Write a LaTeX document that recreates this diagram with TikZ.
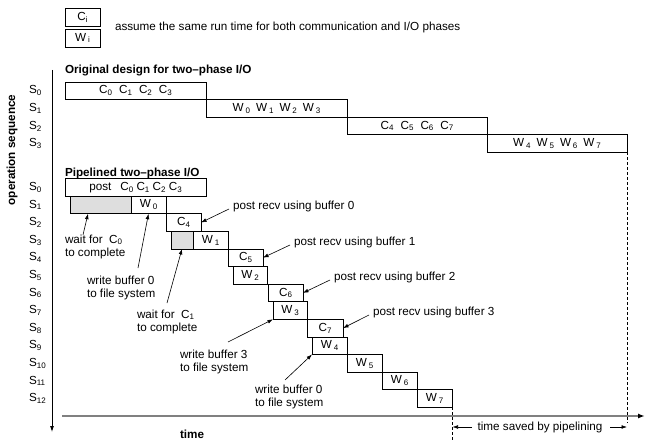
\documentclass[tikz,border=0pt]{standalone}
\usepackage{fontspec}
\setmainfont{Liberation Sans}
\usetikzlibrary{arrows.meta}
\newcommand\sbx[1]{\raisebox{-0.3ex}{\fontsize{8}{8}\selectfont #1}}
\begin{document}
\begin{tikzpicture}[x=1pt,y=-1pt,
  every node/.style={inner sep=0pt, outer sep=0pt, font=\fontsize{11.7}{13}\selectfont},
  box/.style={draw=black, line width=0.7pt, minimum height=17.6pt, anchor=north west},
  gbox/.style={box, fill=black!13},
  lab/.style={anchor=west, align=left},
  arr/.style={line width=0.6pt, -{Latex[length=5.5pt,width=3.8pt]}},
  ttl/.style={anchor=west, font=\fontsize{11.7}{13}\selectfont\bfseries},
  dsh/.style={line width=0.7pt, dash pattern=on 3pt off 2pt}]
\useasboundingbox (0,0) rectangle (645,441);

% legend
\node[box, minimum width=35pt, minimum height=18pt] (lc) at (65,8) {C\sbx{i}};
\node[box, minimum width=35pt, minimum height=18pt] (lw) at (65,29) {W\,\sbx{i}};
\node[lab] (note) at (115,27.5) {assume the same run time for both communication and I/O phases};

% axes
\coordinate (vtop) at (52,70);
\coordinate (vbot) at (52,432);
\draw[line width=0.8pt, -{Latex[length=6pt,width=4pt]}] (vtop) -- (vbot);
\node[rotate=90, font=\fontsize{11.7}{13}\selectfont\bfseries] (opseq) at (12,150) {operation sequence};
\coordinate (hl) at (62,416);
\coordinate (hr) at (645,416);
\draw[line width=1.6pt, black!50, -{Latex[length=7pt,width=5pt,color=black]}] (hl) -- (hr);
\node[ttl] (time) at (180,434) {time};

% original design
\node[ttl] (t1) at (65,71) {Original design for two--phase I/O};
\foreach \i in {0,...,3} \node[anchor=west] (so\i) at (29,{90.8+17.6*\i}) {S\sbx{\i}};
\node[box, minimum width=141pt] (o1) at (65,82) {C\sbx0\hspace{7pt}C\sbx1\hspace{7pt}C\sbx2\hspace{7pt}C\sbx3\hspace{6pt}};
\node[box, minimum width=141pt] (o2) at (206,99.6) {W\,\sbx0\hspace{6pt}W\,\sbx1\hspace{6pt}W\,\sbx2\hspace{6pt}W\,\sbx3\hspace{10pt}};
\node[box, minimum width=140pt] (o3) at (347,117.2) {C\sbx4\hspace{7pt}C\sbx5\hspace{7pt}C\sbx6\hspace{7pt}C\sbx7\hspace{6pt}};
\node[box, minimum width=140pt] (o4) at (487,134.8) {W\,\sbx4\hspace{6pt}W\,\sbx5\hspace{6pt}W\,\sbx6\hspace{6pt}W\,\sbx7\hspace{10pt}};
\coordinate (d1b) at (627,423);
\draw[dsh] (o4.south east) -- (d1b);

% pipelined
\node[ttl] (t2) at (65,173) {Pipelined two--phase I/O};
\foreach \i in {0,...,12} \node[anchor=west] (sp\i) at (29,{187.3+17.6*\i}) {S\sbx{\i}};
\node[box, minimum width=141pt] (post) at (65,178.5) {post\hspace{9pt}C\sbx0 C\sbx1 C\sbx2 C\sbx3\hspace{14pt}};
\node[gbox, minimum width=61pt] (g1) at (70,196.1) {};
\node[box, minimum width=35pt] (w0) at (131,196.1) {W\,\sbx0};
\node[box, minimum width=35pt] (c4) at (166,213.7) {C\sbx4};
\node[gbox, minimum width=22pt] (g2) at (171,231.3) {};
\node[box, minimum width=35pt] (w1) at (193,231.3) {W\,\sbx1};
\node[box, minimum width=35pt] (c5) at (228,248.9) {C\sbx5};
\node[box, minimum width=34pt] (w2) at (233,266.5) {W\,\sbx2};
\node[box, minimum width=35pt] (c6) at (268,284.1) {C\sbx6};
\node[box, minimum width=34pt] (w3) at (273,301.7) {W\,\sbx3};
\node[box, minimum width=36pt] (c7) at (307,319.3) {C\sbx7};
\node[box, minimum width=35pt] (w4) at (312,336.9) {W\,\sbx4};
\node[box, minimum width=35pt] (w5) at (347,354.5) {W\,\sbx5};
\node[box, minimum width=35pt] (w6) at (382,372.1) {W\,\sbx6};
\node[box, minimum width=35pt] (w7) at (417,389.7) {W\,\sbx7};

% post recv annotations
\node[lab] (pr0) at (233,206) {post recv using buffer 0};
\node[lab] (pr1) at (294,242) {post recv using buffer 1};
\node[lab] (pr2) at (334,277) {post recv using buffer 2};
\node[lab] (pr3) at (373,312) {post recv using buffer 3};
\draw[arr] ([xshift=-4pt,yshift=-3pt]pr0.west) -- (c4.east);
\draw[arr] ([xshift=-4pt,yshift=-3pt]pr1.west) -- (c5.east);
\draw[arr] ([xshift=-4pt,yshift=-3pt]pr2.west) -- (c6.east);
\draw[arr] ([xshift=-4pt,yshift=-3pt]pr3.west) -- (c7.east);

% lower annotations
\node[lab] (wc0) at (65,246.5) {wait for \ C\sbx0\\to complete};
\node[lab] (wb0) at (87,287.5) {write buffer 0\\to file system};
\node[lab] (wc1) at (137,321.5) {wait for \ C\sbx1\\to complete};
\node[lab] (wb3) at (180,362) {write buffer 3\\to file system};
\node[lab] (wb0b) at (255,396.5) {write buffer 0\\to file system};
\coordinate (awc0) at (83,235);
\coordinate (awb0) at (138,268);
\coordinate (awc1) at (167,303);
\coordinate (awb3) at (228,342);
\coordinate (awb0b) at (285,380);
\draw[arr] (awc0) -- ([xshift=18pt]g1.south west);
\draw[arr] (awb0) -- (w0.south);
\draw[arr] (awc1) -- (g2.south);
\draw[arr] (awb3) -- (w3.south west);
\draw[arr] (awb0b) -- (w4.south west);

% time saved
\coordinate (d2b) at (452,441);
\draw[dsh] (w7.south east) -- (d2b);
\node (saved) at (540,427) {time saved by pipelining};
\coordinate (sl0) at (472,427);
\coordinate (sl1) at (452.5,427);
\coordinate (sr0) at (610,427);
\coordinate (sr1) at (627,427);
\draw[arr] (sl0) -- (sl1);
\draw[arr] (sr0) -- (sr1);
\end{tikzpicture}
\end{document}
